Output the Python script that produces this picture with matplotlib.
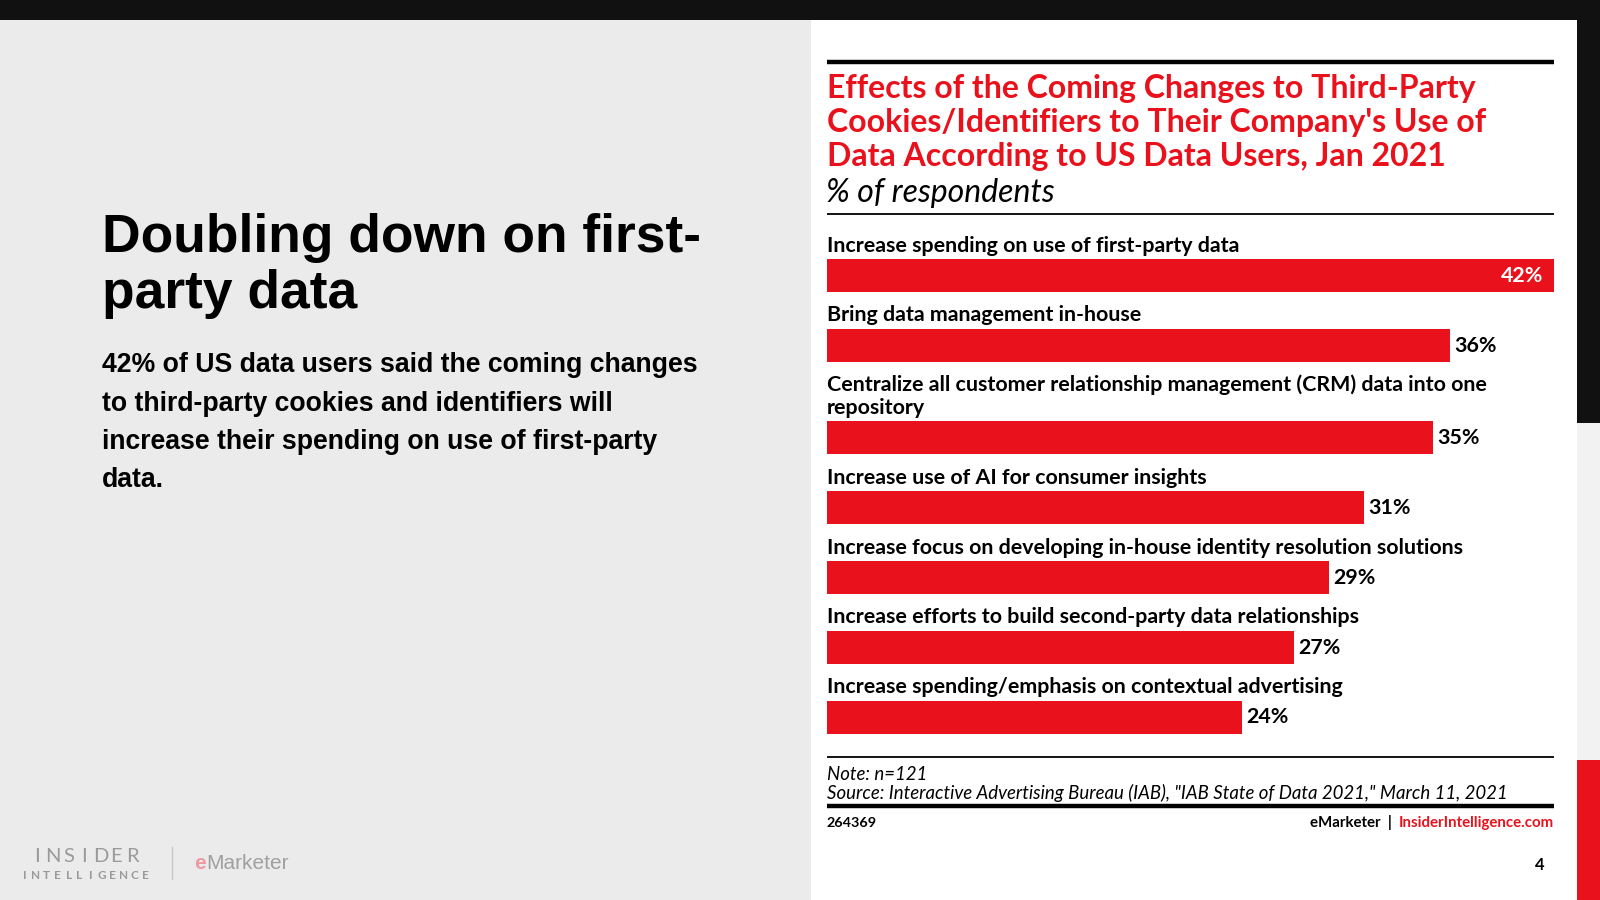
import matplotlib
matplotlib.use("Agg")
import matplotlib.pyplot as plt
from matplotlib.patches import Rectangle
from matplotlib.lines import Line2D

# ---------------- data ----------------
categories = [
    "Increase spending on use of first-party data",
    "Bring data management in-house",
    "Centralize all customer relationship management (CRM) data into one\nrepository",
    "Increase use of AI for consumer insights",
    "Increase focus on developing in-house identity resolution solutions",
    "Increase efforts to build second-party data relationships",
    "Increase spending/emphasis on contextual advertising",
]
values = [42, 36, 35, 31, 29, 27, 24]
value_labels = ["42%", "36%", "35%", "31%", "29%", "27%", "24%"]

chart_title = ("Effects of the Coming Changes to Third-Party\n"
               "Cookies/Identifiers to Their Company's Use of\n"
               "Data According to US Data Users, Jan 2021")
chart_subtitle = "% of respondents"
note_text = "Note: n=121"
source_text = 'Source: Interactive Advertising Bureau (IAB), "IAB State of Data 2021," March 11, 2021'
chart_id = "264369"
slide_heading = "Doubling down on first-\nparty data"
slide_body = ("42% of US data users said the coming changes\n"
              "to third-party cookies and identifiers will\n"
              "increase their spending on use of first-party\n"
              "data.")
page_number = "4"

# ---------------- styling ----------------
RED = "#e9111b"
DARK = "#111111"
W0, H0 = 1568.0, 882.0  # reference layout units

CH = ["Lato", "DejaVu Sans"]
AR = ["Liberation Sans", "DejaVu Sans"]

fig = plt.figure(figsize=(16, 9), dpi=100)
fig.patch.set_facecolor("#ebebeb")


def fx(x):
    return x / W0


def fy(y):
    return 1 - y / H0


def rect(x0, y0, x1, y1, color):
    fig.patches.append(Rectangle((fx(x0), fy(y1)), fx(x1) - fx(x0), fy(y0) - fy(y1),
                                 transform=fig.transFigure, facecolor=color,
                                 edgecolor="none", zorder=0))


def hline(x0, x1, y, lw, color="black"):
    fig.lines.append(Line2D([fx(x0), fx(x1)], [fy(y), fy(y)], transform=fig.transFigure,
                            color=color, lw=lw, solid_capstyle="butt", zorder=2))


def lines_at(text, x, y_first, step, **kw):
    for i, ln in enumerate(text.split("\n")):
        fig.text(fx(x), fy(y_first + i * step), ln, ha="left", va="baseline", **kw)


# background blocks
rect(0, 0, W0, 20, DARK)
rect(795, 20, 1545, H0, "white")
rect(1545, 0, W0, 415, DARK)
rect(1545, 415, W0, 745, "#f2f2f2")
rect(1545, 745, W0, H0, RED)

# left slide text
lines_at(slide_heading, 100, 247, 55, family=AR, weight="bold", fontsize=38.4, color="black")
lines_at(slide_body, 100, 365, 37.5, family=AR, weight="bold", fontsize=19.2, color="black")

# logo
ins = "INSIDER"
for i, ch in enumerate(ins):
    fig.text(fx(36 + i * 15.6), fy(845), ch, ha="center", va="baseline", family=CH,
             fontsize=14.5, color="#9a9a9a")
intel = "INTELLIGENCE"
for i, ch in enumerate(intel):
    fig.text(fx(24.5 + i * 10.7), fy(861), ch, ha="center", va="baseline", family=CH,
             fontsize=8.5, color="#9a9a9a", weight="bold")
fig.lines.append(Line2D([fx(169), fx(169)], [fy(830), fy(861)], transform=fig.transFigure,
                        color="#c8c8c8", lw=1))
fig.text(fx(190), fy(852), "e", ha="left", va="baseline", family=AR, fontsize=15,
         color="#ef9aa0", weight="bold")
fig.text(fx(202), fy(852), "Marketer", ha="left", va="baseline", family=AR, fontsize=15,
         color="#a0a0a0")

# chart header
hline(810, 1523, 61, 3.2)
lines_at(chart_title, 810, 96.5, 33, family=CH, weight="bold", fontsize=23, color=RED)
lines_at(chart_subtitle, 809, 198, 0, family=CH, style="italic", fontsize=23, color="black")
hline(810, 1523, 210, 1.3)

# bars axes
X0, X1, Y0, Y1 = 810, 1523, 222, 728
ax = fig.add_axes([fx(X0), fy(Y1), fx(X1) - fx(X0), fy(Y0) - fy(Y1)])
ax.set_zorder(5)
ax.patch.set_alpha(0)
ax.set_xlim(0, max(values))
ax.set_ylim(Y1, Y0)
ax.axis("off")

LBL = dict(family=CH, weight="bold", fontsize=15.4)
y = 246.5  # baseline of first label
for cat, val, lab in zip(categories, values, value_labels):
    lines = cat.split("\n")
    for j, ln in enumerate(lines):
        ax.text(0, y + 22 * j, ln, ha="left", va="baseline", color="black", **LBL)
    yc = y + 22 * (len(lines) - 1) + 23.5
    ax.barh(yc, val, height=32, color=RED, edgecolor="none")
    if val == max(values):
        ax.text(val - 0.6, yc + 6, lab, ha="right", va="baseline", color="white", **LBL)
    else:
        ax.text(val + 0.25, yc + 6, lab, ha="left", va="baseline", color="black", **LBL)
    y = yc + 45

# footer
hline(810, 1523, 742, 1.3)
fig.text(fx(810), fy(764), note_text, ha="left", va="baseline", family=CH, style="italic",
         fontsize=13.4, color="black")
fig.text(fx(810), fy(783.5), source_text, ha="left", va="baseline", family=CH, style="italic",
         fontsize=13.4, color="black")
hline(810, 1523, 790, 3.2)
fig.text(fx(810), fy(810), chart_id, ha="left", va="baseline", family=CH, weight="bold",
         fontsize=10.4, color="black")
t3 = fig.text(fx(1523), fy(810), "InsiderIntelligence.com", ha="right", va="baseline",
              family=CH, weight="bold", fontsize=10.8, color=RED)
fig.canvas.draw()
r = fig.canvas.get_renderer()
bb = t3.get_window_extent(r)
xl = bb.x0 / fig.bbox.width
fig.text(xl, fy(810), "eMarketer  |  ", ha="right", va="baseline",
         family=CH, weight="bold", fontsize=10.8, color="black")
fig.text(fx(1509), fy(853), page_number, ha="center", va="baseline", family=CH,
         weight="bold", fontsize=12, color="black")

fig.savefig("out.png", dpi=100, facecolor=fig.get_facecolor())
